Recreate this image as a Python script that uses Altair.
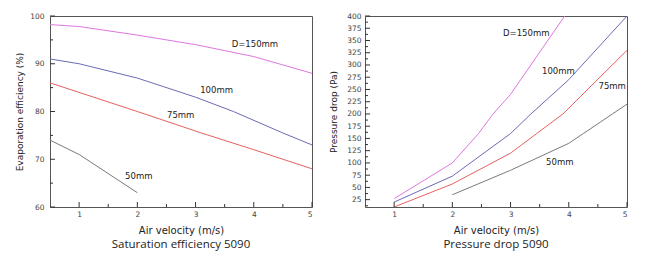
import altair as alt
import pandas as pd

# ---- data: saturation efficiency ----
eff_x_150 = [0.5, 1, 2, 3, 4, 5]
eff_y_150 = [98.2, 97.8, 96.0, 94.0, 91.5, 88.0]
eff_x_100 = [0.5, 1, 2, 3, 3.65, 4.5, 5]
eff_y_100 = [91.0, 90.0, 87.0, 83.0, 80.0, 75.5, 73.0]
eff_x_75 = [0.5, 1, 2, 3.1, 4, 5]
eff_y_75 = [86.0, 84.0, 80.0, 75.5, 72.0, 68.0]
eff_x_50 = [0.5, 1, 2]
eff_y_50 = [74.0, 71.0, 63.0]

# ---- data: pressure drop ----
pd_x_150 = [1, 2, 2.45, 2.7, 3, 3.93]
pd_y_150 = [27, 100, 160, 200, 240, 400]
pd_x_100 = [1, 2, 3, 3.35, 4, 5]
pd_y_100 = [20, 73, 160, 200, 270, 400]
pd_x_75 = [1, 2, 3, 3.45, 3.9, 5]
pd_y_75 = [10, 57, 120, 160, 200, 330]
pd_x_50 = [2, 3, 4, 4.25, 4.75, 5]
pd_y_50 = [35, 85, 140, 160, 200, 220]

series_names = ["150", "100", "75", "50"]
series_colors = ["#dd77dd", "#6b6bb5", "#e86060", "#7a7a7a"]

# labels
eff_lab_text = ["D=150mm", "100mm", "75mm", "50mm"]
eff_lab_x = [3.62, 3.08, 2.51, 1.79]
eff_lab_y = [94.1, 84.5, 79.3, 66.5]
pd_lab_text = ["D=150mm", "100mm", "75mm", "50mm"]
pd_lab_x = [2.87, 3.54, 4.51, 3.61]
pd_lab_y = [364.8, 286.7, 257.6, 101.0]

# ticks
x_major = [1, 2, 3, 4, 5]
x_minor = [1.5, 2.5, 3.5, 4.5]
eff_y_major = [60, 70, 80, 90, 100]
eff_y_minor = [65, 75, 85, 95]
pd_y_major = [25, 50, 75, 100, 125, 150, 175, 200, 225, 250, 275, 300, 325, 350, 375, 400]
pd_y_minor = [12.5, 37.5, 62.5, 87.5, 112.5, 137.5, 162.5, 187.5, 212.5, 237.5,
              262.5, 287.5, 312.5, 337.5, 362.5, 387.5]

W, H = 262, 191
FONT = "DejaVu Sans"
TFONT = "Open Sans"


def frame(xs_list, ys_list):
    rows = []
    for name, xs, ys in zip(series_names, xs_list, ys_list):
        for i, (a, b) in enumerate(zip(xs, ys)):
            rows.append({"s": name, "x": a, "y": b, "o": i})
    return pd.DataFrame(rows)


def panel(df, labs, ydom, ymajor, yminor, title, ytitle, ylabpad, ytitlepad):
    xs = alt.Scale(domain=[0.5, 5], nice=False, zero=False)
    ys = alt.Scale(domain=ydom, nice=False, zero=False)
    xax = alt.Axis(values=x_major, format="d", ticks=False, domain=False, grid=False,
                   labelFontSize=7.5, labelFont=FONT, labelPadding=3, labelOverlap=False,
                   title="Air velocity (m/s)", titleFont=FONT, titleFontSize=10,
                   titleFontWeight="normal", titlePadding=8, labelColor="#444", titleColor="#222")
    yax = alt.Axis(values=ymajor, format="d", ticks=False, domain=False, grid=False,
                   labelFontSize=7.5, labelFont=FONT, labelPadding=ylabpad, labelOverlap=False,
                   title=ytitle, titleFont=FONT, titleFontSize=9,
                   titleFontWeight="normal", titlePadding=ytitlepad, labelColor="#444", titleColor="#222")
    lines = alt.Chart(df).mark_line(strokeWidth=1, clip=True).encode(
        x=alt.X("x:Q", scale=xs, axis=xax),
        y=alt.Y("y:Q", scale=ys, axis=yax),
        color=alt.Color("s:N", scale=alt.Scale(domain=series_names, range=series_colors), legend=None),
        order="o:Q",
    )
    text = alt.Chart(labs).mark_text(align="left", baseline="middle", fontSize=8.5,
                                     font=FONT, color="#222").encode(
        x=alt.X("x:Q", scale=xs, axis=xax), y=alt.Y("y:Q", scale=ys, axis=yax), text="t:N")
    layers = [lines, text]
    xmaj = alt.Chart(pd.DataFrame({"v": x_major})).mark_rule(color="#333").encode(
        x=alt.X("v:Q", scale=xs, axis=xax), y=alt.value(H), y2=alt.value(H - 5))
    xmin = alt.Chart(pd.DataFrame({"v": x_minor})).mark_rule(color="#333").encode(
        x=alt.X("v:Q", scale=xs, axis=xax), y=alt.value(H), y2=alt.value(H - 3))
    ymaj = alt.Chart(pd.DataFrame({"v": ymajor})).mark_rule(color="#333").encode(
        y=alt.Y("v:Q", scale=ys, axis=yax), x=alt.value(0), x2=alt.value(5))
    ymin = alt.Chart(pd.DataFrame({"v": yminor})).mark_rule(color="#333").encode(
        y=alt.Y("v:Q", scale=ys, axis=yax), x=alt.value(0), x2=alt.value(3))
    layers += [xmaj, xmin, ymaj, ymin]
    return alt.layer(*layers).properties(
        width=W, height=H,
        title=alt.TitleParams(title, orient="bottom", fontSize=11.5, font=TFONT,
                              fontWeight="normal", offset=3, color="#222"),
    )


eff_df = frame([eff_x_150, eff_x_100, eff_x_75, eff_x_50], [eff_y_150, eff_y_100, eff_y_75, eff_y_50])
pd_df = frame([pd_x_150, pd_x_100, pd_x_75, pd_x_50], [pd_y_150, pd_y_100, pd_y_75, pd_y_50])
eff_labs = pd.DataFrame({"t": eff_lab_text, "x": eff_lab_x, "y": eff_lab_y})
pd_labs = pd.DataFrame({"t": pd_lab_text, "x": pd_lab_x, "y": pd_lab_y})

left = panel(eff_df, eff_labs, [60, 100], eff_y_major, eff_y_minor,
             "Saturation efficiency 5090", "Evaporation efficiency (%)", 6, 5)
right = panel(pd_df, pd_labs, [10, 400], pd_y_major, pd_y_minor,
              "Pressure drop 5090", "Pressure drop (Pa)", 4, 8)

chart = alt.hconcat(left, right, spacing=16).properties(
    padding={"left": 15, "top": 11, "right": 0, "bottom": 0},
    background="white",
).configure_view(stroke="#555", strokeWidth=1)

chart.save("out.html", embed_options={"renderer": "svg", "actions": False})
